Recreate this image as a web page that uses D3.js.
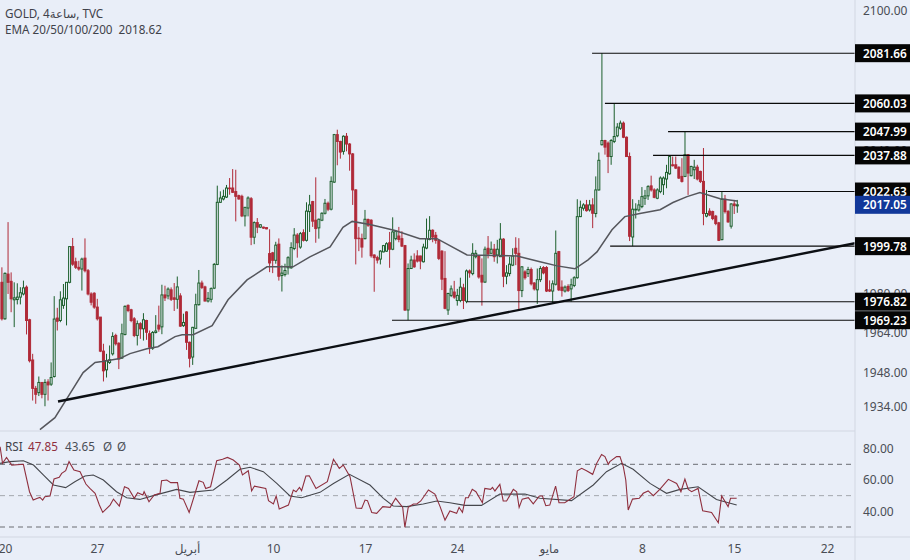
<!DOCTYPE html>
<html><head><meta charset="utf-8">
<script src="https://cdn.jsdelivr.net/npm/d3@7"></script>
<style>html,body{margin:0;padding:0;background:#e9eef8}svg{display:block}
text{font-family:"Noto Sans","DejaVu Sans",sans-serif}</style></head>
<body><svg id="c" width="910" height="560"></svg>
<script>
const opens=[
1984.8,1969.8,1988.2,1985.2,1977.6,1977.7,1978.7,1980,1982.8,1969.4,
1953,1941.5,1939.8,1943.9,1939.1,1944.1,1943.2,1946.3,1970.1,1969.1,
1975.3,1978,1984.8,1999.6,1993.3,1991,1990.3,1994.8,1989.6,1980,
1980.3,1974.6,1970.5,1956.6,1949,1952,1955.5,1963,1959.8,1953.8,
1963.4,1975.3,1973.5,1969.8,1963,1967.8,1965.7,1969.1,1963.7,1957.8,
1964.2,1967.2,1966.5,1979.6,1979.2,1981.7,1978.4,1977.8,1979.2,1967,
1972.6,1960.2,1954.2,1965.9,1975.6,1984.5,1982.9,1977.1,1977.8,1982.4,
1992.2,2018.1,2019.5,2020.3,2024.1,2024.1,2022.6,2020.9,2020.6,2012.4,
2015.7,2019.6,2003.5,2009.6,2007.7,2007.7,2007.5,1996.7,1997,1993.9,
2000.6,1987.6,1988,1990.8,1990.8,1998.8,2004.4,1999.4,2005.4,2002.2,
2014.2,2018.4,2010.6,2007.4,2010.6,2013.5,2017.7,2015.2,2026.6,2046.7,
2043.8,2039.6,2046,2042.7,2038.5,2023.3,2003.1,2002.9,2002.9,2010.9,
2010.6,1996.1,1995,1994.4,1997.4,1997.7,2001.2,1998.5,2002.9,2004,
2002.9,2000,1973.4,1990.5,1994,1995.7,1995.7,1993.3,1999,2002.6,
2006.4,2004.3,2002.2,1997.7,1986.4,1973.4,1979.4,1980.8,1977.3,1977.3,
1982.5,1977,1989.5,1988.4,1995.4,1995.7,1987.7,1984.9,1998.9,1996.8,
1998.5,1996.1,1995.4,2002.7,1987.3,1988.4,1991.9,1998.9,1996.8,1981.4,
1989.1,1988.4,1990.1,1984.5,1981.7,1985.9,1990.9,1990.9,1981.7,1981.2,
1984,1997.5,1982.8,1981.2,1983.1,1982.1,1983.5,1986.7,2012.1,2015.6,
2017,2014.9,2017,2013.4,2023.3,2042.4,2044.2,2043.1,2037.4,2043.8,
2046.2,2049.4,2051.6,2045.6,2037.4,2003.6,2014.9,2014.9,2016.3,2019.8,
2020.8,2025,2023.3,2019.8,2022.6,2025.5,2027.9,2030.1,2033.9,2033.9,
2032.9,2029,2029,2038.2,2029.3,2031.8,2032.9,2031.1,2026.9,2012.3,
2014.4,2014.2,2012.3,2009.5,2002.5,2019.4,2014.2,2008.1,2017.4,2016.6];
const closes=[
1969.8,1988.5,1984.8,1978,1978.4,1978.7,1980.5,1982.5,1969.1,1952.7,
1941.5,1939.1,1943.9,1939.1,1943.9,1942.9,1945.9,1969.7,1968.8,1977.6,
1978.3,1984.8,1999.6,1992.3,1991,1990.3,1994.4,1989.6,1980,1976.6,
1974.6,1969.8,1956.6,1948.6,1952.7,1953.1,1962.6,1959.6,1953.4,1963.7,
1974.9,1973.2,1969.1,1963,1967.8,1965.7,1969.4,1964.3,1958.2,1964.2,
1964.8,1965.6,1979.6,1978.4,1982,1977.8,1977.8,1982.9,1966.8,1968.3,
1960.2,1953.7,1966.3,1975.6,1984.5,1982.7,1977.1,1978.2,1982.2,1992.2,
2018.1,2019.9,2020.6,2024.1,2023.8,2022.3,2020.6,2019.5,2012.4,2016,
2019.9,2003.5,2009.6,2007.7,2008.7,2007.3,2007,1992.8,1993.9,2000.2,
1987.3,1988.6,1989.7,1995,1999.2,2004.4,2001.2,2005,2002.2,2014.4,
2017,2010.2,2007.1,2011,2013.5,2017.7,2015.2,2026.9,2046.7,2043.8,
2039.3,2046,2042.7,2038.5,2023.3,2002.9,2002.9,1999.4,2011,2008.5,
1995.8,1995,1994,1997.7,2000,2000.8,1998.5,2005.7,2006,2002.6,
1999.8,1973.4,1990.5,1994,1991.2,1993.6,1993.6,1999.4,2002.9,2006.4,
2003.6,2002.2,1994.7,1986.1,1974.1,1980.2,1982.1,1978.7,1979.4,1982.8,
1977.3,1989.5,1988.7,1996.8,1996.8,1987,1984.9,1998.5,1996.5,1998.5,
1995.4,1998.5,2002.7,1987.3,1988.7,1992.3,1995.7,1996.8,1981.4,1991.2,
1986.7,1990.1,1984.2,1982.1,1985.9,1990.5,1988.7,1981.2,1981.2,1984.2,
1996.8,1981.7,1981.4,1982.8,1981.4,1983.8,1986.7,2012.1,2016,2017,
2014.6,2017,2013.5,2023.3,2035.8,2044.2,2041.4,2037.4,2044.2,2045.9,
2049.9,2051.6,2045.6,2037.4,2003.9,2015.2,2015.2,2017,2020.5,2020.8,
2024.7,2023.3,2020.2,2023.3,2028.3,2028.3,2030.7,2037.4,2033.5,2032.5,
2028.3,2026.9,2038.2,2030.4,2033.2,2032.9,2027.9,2026.9,2013.4,2013.4,
2012.8,2011.3,2009.2,2002.2,2019.4,2014.2,2009.9,2017.4,2016.7,2017.05];
const highs=[
1991,1988.9,2009.8,1988.9,1984.8,1984.4,1982.8,1985.5,1983.5,1969.8,
1955.5,1942.5,1946.3,1943.9,1945.2,1945.2,1952,1979.1,1974.3,1981.1,
1984.1,1984.8,1999.6,2003.2,1995,1993.7,1995,2003,1990.3,1980.7,
1980.7,1978,1970.5,1959.6,1955.5,1958.9,1964.3,1963.7,1960.2,1967.8,
1975.3,1975.7,1973.9,1970.5,1969.1,1968.4,1972.1,1969.4,1965,1964.8,
1971.3,1975.2,1983.8,1983.4,1982.7,1982.7,1984.5,1987.2,1980.3,1971.9,
1972.9,1960.5,1966.5,1980.1,1989.9,1985.5,1983.4,1980.8,1982.7,1992.8,
2025.1,2022.7,2023.4,2025.4,2028.3,2032.1,2031.8,2021.3,2021.3,2016.1,
2020.6,2020.3,2010.1,2011.5,2008.9,2007.9,2007.6,2006.8,1997.4,2001.6,
2003,1991.8,1992.5,1995.6,2001.4,2007.3,2005.2,2005.7,2006.8,2018.1,
2021.2,2018.7,2028.6,2011.3,2013.9,2019.5,2018.4,2029,2047,2048.8,
2044.1,2046.4,2047.4,2043.1,2038.9,2023.6,2007.8,2005,2014.9,2011.3,
2011,1996.4,1995.8,1998.1,2000.3,2001.4,2005.7,2011.8,2006.4,2007.8,
2006,2000.3,1992.6,1995.8,1996.8,1998.1,1995.8,2000.8,2011.3,2012.3,
2006.8,2005.7,2002.2,1998.1,1997.7,1980.5,1983.5,1985.4,1982.1,1986.7,
1984.2,1990.1,1990.1,2001,1998.2,1996.1,1994.7,1999.6,2004,2001.7,
2000.7,2002.4,2009.4,2003.1,1991.9,1995.4,1998.9,2003.5,2003.1,1991.5,
1989.8,1991.2,1990.9,1984.9,1990.5,1991.5,1991.5,1991.5,1985.6,1985.6,
2006.3,1997.8,1985.6,1983.5,1984,1986.3,1987.3,2019.4,2018.8,2017.7,
2019.1,2019.1,2019.8,2029,2039.1,2081.66,2044.5,2043.8,2044.8,2060.03,
2051.6,2052.7,2052.3,2045.9,2039.1,2019.4,2017.7,2019.1,2024.5,2023.3,
2025.3,2029.3,2024,2024,2029,2029,2033.9,2037.88,2037.4,2037.4,
2033.2,2036.7,2047.99,2038.2,2033.5,2036,2033.9,2031.4,2041,2023.3,
2015.6,2014.6,2012.8,2009.9,2022.63,2021.2,2014.9,2017.7,2019.1,2019.1];
const lows=[
1969.1,1969.4,1980,1972.5,1966.4,1975.7,1975.7,1979.4,1963.4,1952,
1936.6,1935.3,1938.4,1937.5,1934.3,1936.6,1942.5,1945.9,1965,1968.4,
1973.9,1967.1,1984.4,1991.6,1990.3,1989.6,1981.4,1988.9,1979.4,1975.3,
1973.9,1969.1,1956.2,1944.3,1945.9,1951.4,1954.8,1958.9,1949.3,1953.4,
1963,1972.5,1968.4,1962.3,1958.9,1961.6,1960.9,1961.2,1955.5,1957.1,
1963.8,1964.5,1963.5,1977.1,1977.8,1977.1,1973,1973.9,1966.5,1966.5,
1957.1,1950,1951,1965.6,1975.2,1982,1976.9,1976.5,1976.5,1982,
1991.9,2017.8,2018.9,2019.9,2021.3,2022,2010.1,2019.2,2011.9,2008,
2012.2,2000.2,2000.6,2005.2,2007.3,2007,2006.8,1989,1988.6,1992.5,
1985.5,1981,1987.2,1988,1990.4,1998.1,1995,1998.7,2001.7,2001.7,
2005.7,2007.8,2001.2,2002.9,2010.2,2013,2014.4,2014.7,2026.2,2033.7,
2036.5,2038.2,2039.6,2031.4,2017,1992.2,1997.7,1995,2002.6,2007.8,
1995,1980.9,1992.6,1992.2,1997.2,1997.4,1990.8,1998.1,2002.2,2001.4,
1999.4,1973,1969.23,1990.5,1990.8,1993,1990.2,1993,1998.5,2002.2,
2001.4,2000.8,1994,1981.6,1973.7,1971.4,1978.7,1978,1975.2,1976.6,
1973.8,1976.2,1986.7,1987.7,1994.7,1986.3,1975.2,1984.5,1994.7,1996.8,
1993.3,1992.6,1995.4,1982.8,1984,1987.3,1991.5,1991.9,1973.5,1978.7,
1985.9,1987,1983.5,1981.4,1975.9,1984.9,1988.1,1980.8,1980.8,1976.2,
1983.5,1981.2,1978.9,1980.6,1980.8,1976.82,1982.8,1986.3,2011.9,2014.6,
2014.2,2014.2,2007.3,2011.8,2023,2042.1,2038.2,2030.4,2033.9,2043.1,
2045.6,2048.7,2045.2,2037.2,2001.9,1999.78,2011.3,2014.2,2015.6,2017,
2019.1,2022.6,2019.8,2019.4,2021.9,2021.2,2024,2029.7,2033.2,2032.1,
2027.9,2026.4,2028.7,2021.2,2029,2027.9,2027.3,2026.2,2008.5,2011.8,
2012.3,2010.6,2008.5,2001.9,2002.2,2013.4,2009.5,2007.1,2013.2,2013.7];

const emaTime=[11.4,16.3,20.6,25.5,29.4,31.7,37.5,40.8,46.3,49.9,55.5,57.8,61.4,67.6,72.8,79,85.5,94,99.5,106.1,110.3,113.3,119.1,127.3,135.4,141,150.8,167.1,174.6,180.2,186,190.3,193.2,198.1,202.3,207.2,213.8,218,222.6,226.8,233.4,238.9];
const emaValues=[1924.9,1929.7,1938.2,1947.9,1952,1952.4,1953.6,1955.6,1957.6,1958.4,1962.5,1963.3,1963.3,1967,1977.6,1985.8,1991.2,1991.2,1995.3,1999.5,2007.6,2010.1,2008.8,2006.3,2002.9,2002.9,1996.1,1995.7,1993.3,1991.6,1990.4,1994.1,1997.4,2006.6,2012.1,2013.4,2015,2018,2020.5,2022.2,2019.6,2018.62];

const rsiTime=[-1.6,-0.8,0.5,2.2,6,8,9.2,10.6,11.4,12.3,13,14.7,16,17.7,18.5,19.8,20.9,22.5,24.5,26.4,27.7,29.4,30.8,31.9,34.3,35.4,37.3,39,40.3,42.2,43.3,45,45.4,47,48.7,50.6,51.1,52.8,54.1,56.3,57.1,58.2,60.1,63.3,64.7,65.5,67.1,69.1,71,72.6,74.5,76.5,77.5,79.4,80.5,81.4,85.1,86,87.6,88.5,89.5,92.5,94.1,95,96.1,96.8,98.2,99.3,101.5,105.2,107.2,109.1,110.4,112.6,114.6,116.4,117.5,118.3,119.7,121.3,123.3,125.7,127.5,129.8,130.5,131.6,133.3,134.4,135.7,138.2,140.3,142,143.6,145.2,147.4,148.2,149.3,150.3,151.2,152.5,153.7,155.8,156.6,158.5,159.1,159.9,161.5,162.6,163.7,165.9,167,167.8,168.8,170.8,172.4,174.4,175.4,176.5,177.8,179.7,180.8,182.7,185.7,186.8,188.2,189.8,191.8,193.1,194.7,195.8,196.9,197.4,199.6,200.7,201.8,202.6,203.4,204.8,207,208.3,209.9,211.6,213.7,216.5,219.2,220.6,221.9,223,224.1,226.2,227.7,230.6,232.8,233.9,236,236.8,238.8];
const rsiValues=[81.2,70.6,74.4,69.5,70,52.5,47.2,48.3,48.9,47.2,49.3,49.8,60.6,61.7,64.2,65.9,71.7,66.3,65.3,57.4,54.6,51.5,44,39.3,44,47.8,43.4,55.7,54.6,48.3,51.9,50.4,52.5,46.1,50.4,51.5,59.5,60,58.3,58.3,48.3,47.8,39.3,59.5,58.5,54.6,55.7,72.3,73.2,74.4,72.7,69.5,63.2,65.9,53,56.1,54.6,46.8,44.7,49.8,41.5,44,53.6,52.5,55.3,53.2,62.5,62.7,54.6,58.9,73.2,67.4,69.5,62.1,42.1,41.9,47.2,46.8,39.3,38.7,43,42.5,48.3,42.5,29.8,42.5,44.7,44.7,46.6,53.6,51,43,34.4,40.2,38.7,42.5,39.3,48.7,48.7,54,52.5,45.5,54.6,54,55.3,53,57.2,46.6,46.6,54,52.5,42.5,47.8,48.7,44.7,49.8,49.8,43.6,44,56.1,45.5,45.5,49.3,65.9,67.4,65.9,63.6,70.6,76.3,74.9,70,71.7,74.9,74.9,68.5,60,40.8,47.8,48.3,51.5,53,50,54,60.4,57.8,52.5,60.6,54,52.5,54.6,40.4,39.3,32.7,49.8,43,48.3,48.3];
const rsiMaTime=[-1.6,1.6,6,9.3,12.5,15.8,19.8,22.8,26.1,28.8,32.1,36.4,39.7,44,48.4,56,60.4,68,72.4,76.7,80,84.3,88.7,93,96.8,102.8,107.2,112.4,119.1,123.5,126.7,131.1,136.5,140.9,145.2,150.1,155.5,161.5,169.7,174.6,184.9,192,196.3,201.2,205,210.5,215.9,220.3,226.2,232.2,238.8];
const rsiMaValues=[70.6,71.7,72.3,69.5,63.2,56.8,55.1,58.9,62.5,63.2,60,52.5,48.7,47.6,50,54,52.1,53.6,60,66.8,68.1,65.3,57.8,49.8,48.7,52.1,57.8,63.6,56.8,48.3,43.4,43,44.7,46.6,45.5,43.8,43.8,51,51,48.3,46.8,56.8,65.3,70.6,66.8,57.8,51.5,54,55.7,47.6,44];

const priceTicks=[2100,2040,1980,1964,1948,1934];
const rsiTicks=[80,60,40];
const rsiBands=[70,50,30];
const dateTicks=[0,30,59.4,87.5,117.5,147.5,177.5,207.9,237.9,268.3];
const dateLabels=["20","27","أبريل","10","17","24","مايو","8","15","22"];
const levelPrices=[2081.66,2060.03,2047.99,2037.88,2022.63,1999.78,1976.82,1969.23];
const levelStarts=[191.6,195.8,216.4,211.5,229.4,197.5,150.8,126.3];
const trendTime=[17.3,277.4];
const trendPrice=[1936.2,2001];
const lastPrice=2017.05;

const W=910,H=560,axisX=855,paneBottom=431,rsiBottom=537;
const BG="#e9eef8",UP="#1c5f2c",DOWN="#b02a38",GRID="#d2d7e2",TXT="#4a4d55";
const svg=d3.select("#c");
svg.append("rect").attr("width",W).attr("height",H).attr("fill",BG);
const defs=svg.append("defs");
defs.append("clipPath").attr("id","main").append("rect").attr("width",axisX).attr("height",paneBottom);
defs.append("clipPath").attr("id","rsi").append("rect").attr("y",paneBottom).attr("width",axisX).attr("height",rsiBottom-paneBottom);

const xBar=d3.scaleLinear().domain([0,239]).range([1.9,737.3]);
const x=d3.scaleLinear().domain([0,239]).range([5,737.3]);
const y=d3.scaleLog().domain([1934,2100]).range([407,11]);
const yR=d3.scaleLinear().domain([70,30]).range([464.3,527]);

const g=svg.append("g").attr("clip-path","url(#main)");
const idx=d3.range(opens.length);
const colr=i=>closes[i]>=opens[i]?UP:DOWN;
g.selectAll("line.wick").data(idx).join("line").attr("class","wick")
 .attr("x1",i=>xBar(i)).attr("x2",i=>xBar(i)).attr("y1",i=>y(highs[i])).attr("y2",i=>y(lows[i]))
 .attr("stroke",colr).attr("stroke-width",1);
g.selectAll("rect.body").data(idx).join("rect").attr("class","body")
 .attr("x",i=>xBar(i)-1).attr("width",2)
 .attr("y",i=>y(Math.max(opens[i],closes[i])))
 .attr("height",i=>Math.max(0.5,Math.abs(y(opens[i])-y(closes[i]))))
 .attr("fill",i=>closes[i]>=opens[i]?BG:DOWN).attr("stroke",colr).attr("stroke-width",1);

const lineOf=(xs,sy)=>d3.line().x(d=>x(d[0])).y(d=>sy(d[1]))(xs);
g.append("path").attr("d",lineOf(d3.zip(emaTime,emaValues),y)).attr("fill","none").attr("stroke","#55565c").attr("stroke-width",1.5);
g.append("path").attr("d",lineOf(d3.zip(trendTime,trendPrice),y)).attr("fill","none").attr("stroke","#0c0f14").attr("stroke-width",2.4);
g.selectAll("line.lvl").data(levelPrices).join("line").attr("class","lvl")
 .attr("x1",(d,i)=>x(levelStarts[i])).attr("x2",axisX).attr("y1",d=>y(d)).attr("y2",d=>y(d))
 .attr("stroke","#0a0a0a").attr("stroke-width",1.1);

const r=svg.append("g").attr("clip-path","url(#rsi)");
r.selectAll("line.band").data(rsiBands).join("line").attr("class","band")
 .attr("x1",0).attr("x2",axisX).attr("y1",d=>yR(d)).attr("y2",d=>yR(d))
 .attr("stroke",d=>d===50?"#a4a7ae":"#6a6c72").attr("stroke-dasharray","5,4").attr("stroke-width",1);
r.append("path").attr("d",lineOf(d3.zip(rsiMaTime,rsiMaValues),yR)).attr("fill","none").attr("stroke","#45474d").attr("stroke-width",1.1);
r.append("path").attr("d",lineOf(d3.zip(rsiTime,rsiValues),yR)).attr("fill","none").attr("stroke","#8f2f3e").attr("stroke-width",1.1);

[[0,axisX,paneBottom,paneBottom],[0,W,rsiBottom,rsiBottom],[axisX,axisX,0,H]].forEach(l=>
 svg.append("line").attr("x1",l[0]).attr("x2",l[1]).attr("y1",l[2]).attr("y2",l[3]).attr("stroke",GRID).attr("stroke-width",1));

function styleAxis(a){a.select(".domain").remove();a.selectAll("line").remove();a.selectAll("text").attr("fill",TXT).style("font-size","12px");}
svg.append("g").attr("transform",`translate(${axisX},0)`).call(d3.axisRight(y).tickValues(priceTicks).tickSize(0).tickPadding(8).tickFormat(d3.format(".2f"))).call(styleAxis);
svg.append("g").attr("transform",`translate(${axisX},0)`).call(d3.axisRight(yR).tickValues(rsiTicks).tickSize(0).tickPadding(8).tickFormat(d3.format(".2f"))).call(styleAxis);
svg.append("g").attr("transform",`translate(0,${rsiBottom+4})`).call(d3.axisBottom(x).tickValues(dateTicks).tickSize(0).tickPadding(3).tickFormat((d,i)=>dateLabels[i])).call(styleAxis);

const tag=(p,fill)=>{
 svg.append("rect").attr("x",axisX).attr("y",y(p)-9).attr("width",W-axisX).attr("height",18).attr("fill",fill);
 svg.append("text").attr("x",863).attr("y",y(p)+4.5).attr("fill","#fff").style("font-size","11.8px").style("font-weight","600").text(d3.format(".2f")(p));
};
levelPrices.forEach(p=>tag(p,"#050505"));
tag(lastPrice,"#12389a");

const head=svg.append("g").attr("fill","#3f424a").style("font-size","11.7px");
head.append("text").attr("x",5).attr("y",18).text("GOLD, 4ساعة, TVC");
head.append("text").attr("x",5).attr("y",34).attr("xml:space","preserve").style("white-space","pre").text("EMA 20/50/100/200  2018.62");
const rl=svg.append("g").style("font-size","11.7px");
rl.append("text").attr("x",5).attr("y",451).attr("fill","#3f424a").text("RSI");
rl.append("text").attr("x",28).attr("y",451).attr("fill","#8f2f3e").text("47.85");
rl.append("text").attr("x",65).attr("y",451).attr("fill","#4a4d55").text("43.65");
rl.append("text").attr("x",103).attr("y",451).attr("fill","#4a4d55").text("Ø");
rl.append("text").attr("x",117).attr("y",451).attr("fill","#4a4d55").text("Ø");
</script></body></html>
